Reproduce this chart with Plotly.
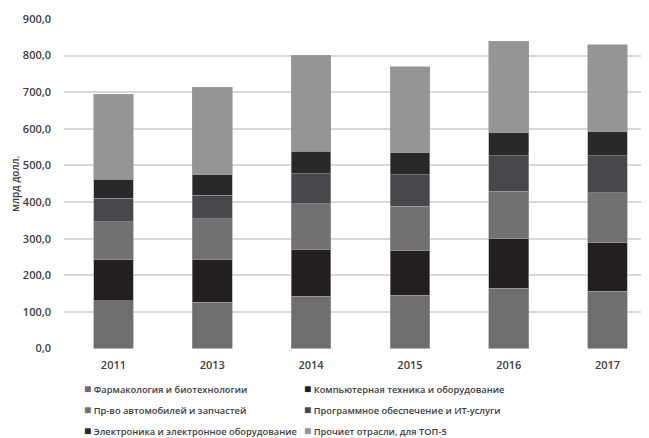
import plotly.graph_objects as go

years = ["2011", "2013", "2014", "2015", "2016", "2017"]

pharma = [131, 127, 143, 146, 164, 157]
computers = [111, 116, 128, 123, 136, 132]
auto = [104, 111, 125, 120, 130, 136]
software = [64, 64, 82, 85, 97, 102]
electronics = [52, 56, 61, 61, 62, 65]
other = [232, 240, 262, 235, 250, 238]

# name, values, colour, which legend column
series = [
    ("Фармакология и биотехнологии", pharma, "#6e6e70", "legend"),
    ("Компьютерная техника и оборудование", computers, "#231f20", "legend2"),
    ("Пр-во автомобилей и запчастей", auto, "#717173", "legend"),
    ("Программное обеспечение и ИТ-услуги", software, "#47484b", "legend2"),
    ("Электроника и электронное оборудование", electronics, "#2b2829", "legend"),
    ("Прочиет отрасли, для ТОП-5", other, "#949597", "legend2"),
]

fig = go.Figure()
for name, vals, color, leg in series:
    fig.add_trace(go.Bar(
        name=name, x=years, y=vals, showlegend=False,
        marker=dict(color=color, line=dict(color="#a0a0a0", width=0.6)),
    ))

# legend entries: small square glyph right next to the text, like the original
for name, vals, color, leg in series:
    fig.add_trace(go.Scatter(
        x=[None], y=[None], mode="markers", legend=leg, legendgroup=name,
        name=f"<span style='color:{color};font-size:12px'>■</span> {name}",
        marker=dict(color="rgba(0,0,0,0)", size=1), hoverinfo="skip",
    ))

# the page body adds an 8px offset, so everything is placed 8px up/left.
# paper runs to the bottom edge so the legends stay inside it (no margin push)
legend_style = dict(
    orientation="v", traceorder="grouped", tracegroupgap=2,
    xanchor="left", yanchor="top", y=0.1639,
    font=dict(size=9.3, color="#404040", weight=600),
    bgcolor="rgba(0,0,0,0)",
)

fig.update_layout(
    barmode="stack",
    bargap=0.6,
    width=649, height=438,
    margin=dict(l=0, r=0, t=11, b=0),
    paper_bgcolor="white",
    plot_bgcolor="white",
    separators=", ",
    font=dict(family="Open Sans", size=11, color="#404040", weight=600),
    yaxis=dict(
        domain=[0.2265, 1], automargin=False,
        range=[0, 900], dtick=100, tickformat=".1f",
        gridcolor="#d9d9d9", gridwidth=1.5,
        zeroline=False, showline=False,
        ticklabelstandoff=12,
        title=dict(text="млрд долл.", font=dict(size=10), standoff=3),
    ),
    xaxis=dict(
        domain=[56 / 649, 1], automargin=False,
        type="category", range=[-0.5, 5.5],
        showline=False, showgrid=False,
        ticklabelstandoff=8,
    ),
    showlegend=True,
    legend=dict(legend_style, x=36 / 649),
    legend2=dict(legend_style, x=256 / 649),
)

fig.write_html("out.html")
